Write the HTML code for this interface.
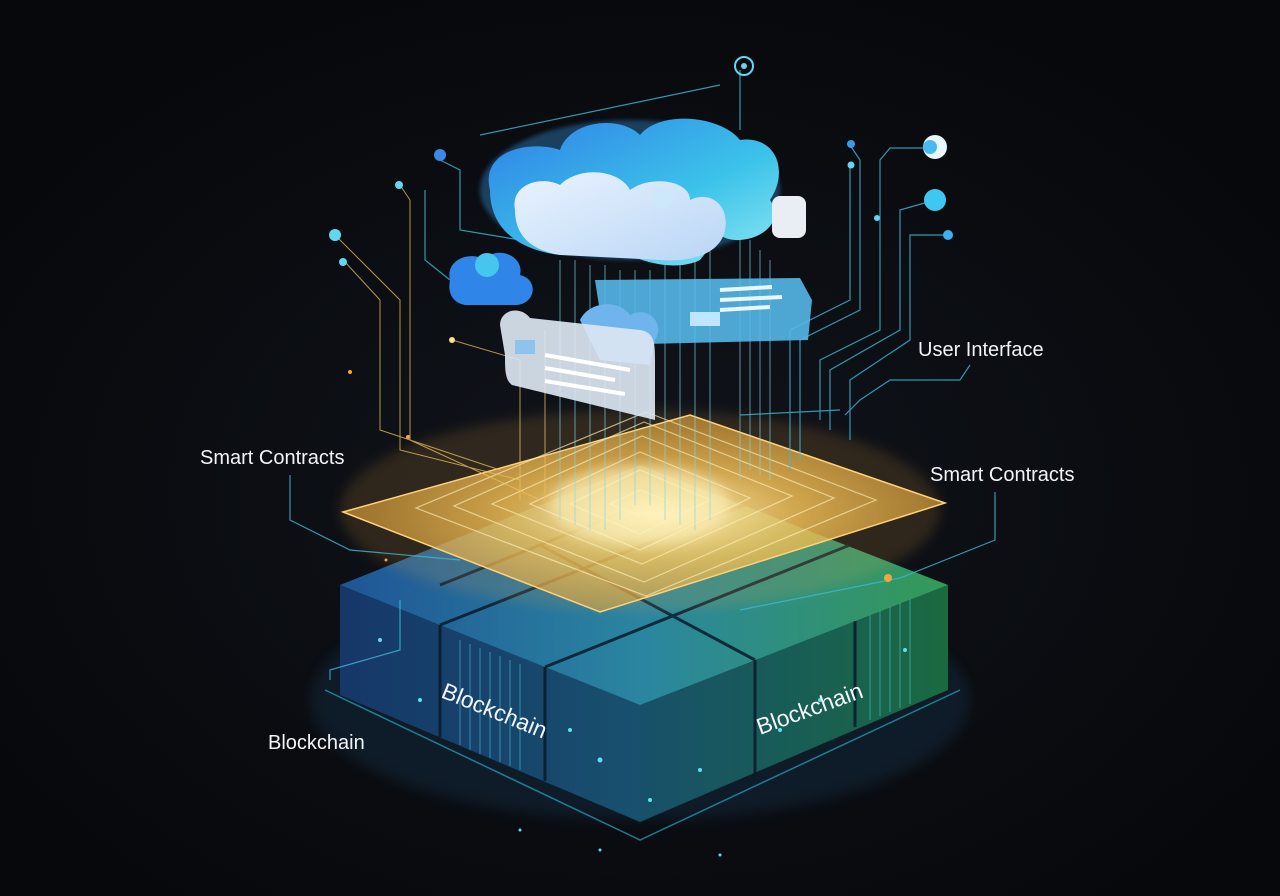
<!DOCTYPE html>
<html><head><meta charset="utf-8"><style>
html,body{margin:0;padding:0;background:#08090c;width:1280px;height:896px;overflow:hidden}
svg{display:block}
text{font-family:"Liberation Sans",sans-serif;fill:#f2f4f8}
</style></head><body>
<svg width="1280" height="896" viewBox="0 0 1280 896" xmlns="http://www.w3.org/2000/svg">
<defs>
<radialGradient id="bg" cx="50%" cy="55%" r="60%"><stop offset="0" stop-color="#10141b"/><stop offset="1" stop-color="#07080b"/></radialGradient>
<linearGradient id="lf" x1="0" y1="0" x2="1" y2="0"><stop offset="0" stop-color="#163769"/><stop offset="1" stop-color="#18506e"/></linearGradient>
<linearGradient id="rf" x1="0" y1="0" x2="1" y2="0"><stop offset="0" stop-color="#17506a"/><stop offset="1" stop-color="#1a6a40"/></linearGradient>
<linearGradient id="tf" x1="0" y1="0" x2="1" y2="0"><stop offset="0" stop-color="#1f5596"/><stop offset="0.5" stop-color="#2a86a0"/><stop offset="1" stop-color="#349a56"/></linearGradient>
<radialGradient id="gold" cx="52%" cy="50%" r="55%"><stop offset="0" stop-color="#fff2b8" stop-opacity="1"/><stop offset=".45" stop-color="#f5c257" stop-opacity=".8"/><stop offset="1" stop-color="#d99a35" stop-opacity=".6"/></radialGradient>
<linearGradient id="cl" x1="0" y1="0" x2="1" y2="1"><stop offset="0" stop-color="#2f7fe6"/><stop offset=".6" stop-color="#3cc3ea"/><stop offset="1" stop-color="#8fe8f2"/></linearGradient>
<linearGradient id="cw" x1="0" y1="0" x2="1" y2="1"><stop offset="0" stop-color="#eaf3ff"/><stop offset="1" stop-color="#b9d6f5"/></linearGradient>
<filter id="gl"><feGaussianBlur stdDeviation="6"/></filter>
<filter id="gs"><feGaussianBlur stdDeviation="2"/></filter>
</defs>
<rect width="1280" height="896" fill="url(#bg)"/>
<ellipse cx="640" cy="700" rx="330" ry="120" fill="#1a5c8a" opacity=".18" filter="url(#gl)"/>
<path d="M325 690 L640 840 L960 690" fill="none" stroke="#2aa7c8" stroke-width="1.5" opacity=".7"/>
<!-- block -->
<path d="M340 585 L640 705 L640 822 L340 695 Z" fill="url(#lf)"/>
<path d="M640 705 L948 585 L948 690 L640 822 Z" fill="url(#rf)"/>
<path d="M340 585 L640 465 L948 585 L640 705 Z" fill="url(#tf)"/>
<g stroke="#0a1a2c" stroke-width="3" opacity=".85">
<path d="M440 625 L440 737 M545 667 L545 781"/>
<path d="M755 660 L755 777 M855 621 L855 727"/>
<path d="M440 625 L745 505 M545 667 L850 545 M540 545 L755 660 M440 585 L640 505"/>
</g>
<g stroke="#4fd6e8" stroke-width="1" opacity=".5">
<path d="M460 640 L460 745 M470 644 L470 750 M480 648 L480 754 M490 652 L490 758 M500 656 L500 762 M510 660 L510 766 M520 664 L520 770"/>
<path d="M870 615 L870 720 M880 611 L880 716 M890 607 L890 712 M900 603 L900 708 M910 599 L910 704"/>
</g>
<g fill="#5ee0f0">
<circle cx="380" cy="640" r="2"/><circle cx="600" cy="760" r="2.5"/><circle cx="700" cy="770" r="2"/><circle cx="820" cy="700" r="2"/><circle cx="905" cy="650" r="2"/><circle cx="570" cy="730" r="2"/><circle cx="650" cy="800" r="2"/><circle cx="420" cy="700" r="2"/><circle cx="780" cy="730" r="2"/><circle cx="600" cy="850" r="1.5"/><circle cx="720" cy="855" r="1.5"/><circle cx="520" cy="830" r="1.5"/>
</g>
<text x="440" y="697" font-size="23" transform="rotate(22 440 697)">Blockchain</text>
<text x="760" y="735" font-size="23" transform="rotate(-20 760 735)">Blockchain</text>
<!-- gold plane -->
<ellipse cx="640" cy="510" rx="300" ry="100" fill="#f0a840" opacity=".15" filter="url(#gl)"/>
<path d="M343 512 L690 415 L945 503 L600 612 Z" fill="url(#gold)" stroke="#ffd27a" stroke-width="1.5"/>
<g fill="none" stroke="#fff0b8" stroke-width="1.2" opacity=".65">
<path d="M640 490 l30 12 l-30 14 l-30 -12 z"/>
<path d="M640 470 l70 30 l-70 34 l-70 -30 z" />
<path d="M640 452 l110 46 l-110 52 l-110 -46 z"/>
<path d="M642 436 l150 60 l-150 68 l-150 -60 z"/>
<path d="M644 422 l190 76 l-190 84 l-190 -76 z"/>
<path d="M646 412 l230 88 l-230 96 l-230 -88 z"/>
</g>
<ellipse cx="640" cy="505" rx="90" ry="40" fill="#fff3c0" opacity=".55" filter="url(#gl)"/>
<!-- vertical lines -->
<g stroke="#7fd8e6" stroke-width="1" opacity=".65">
<path d="M560 260 V520 M575 260 V525 M590 265 V530 M605 265 V530 M620 270 V520 M635 270 V505 M650 270 V505 M665 265 V520 M680 265 V525 M695 260 V530 M710 250 V520"/>
<path d="M740 230 V480 M750 240 V470 M760 250 V475 M770 260 V480"/>
</g>
<g stroke="#f0c060" stroke-width="1" fill="none" opacity=".75">
<path d="M335 235 L400 300 L400 450 L520 480"/><path d="M345 262 L380 300 L380 430 L500 470"/><path d="M400 185 L410 200 L410 440 L540 500"/>
<path d="M452 340 L520 360 L520 500"/><path d="M545 330 V510"/>
</g>
<g stroke="#3fb8d8" stroke-width="1.2" fill="none" opacity=".8">
<path d="M440 160 L460 170 L460 230 L520 240"/><path d="M425 190 L425 260 L450 280"/>
<path d="M740 70 V130"/><path d="M720 85 L480 135"/>
<path d="M930 148 L890 148 L880 160 L880 330 L820 360 V420"/>
<path d="M935 200 L900 210 L900 330 L830 370 V430"/><path d="M945 235 L910 235 L910 340 L850 380 V440"/>
<path d="M850 145 L860 160 L860 310 L800 340 V460"/><path d="M850 165 L850 300 L790 330 V470"/>
<path d="M970 365 L960 380 L890 380 L860 400 L845 415"/>
<path d="M995 492 V540 L900 578 L740 610"/>
<path d="M290 475 V520 L350 550 L460 560"/>
<path d="M330 680 L330 670 L400 650 L400 600"/>
<path d="M840 410 L740 415"/>
</g>
<g fill="#5fd8f0">
<circle cx="335" cy="235" r="6"/><circle cx="343" cy="262" r="4"/><circle cx="399" cy="185" r="4"/><circle cx="440" cy="155" r="6" fill="#3a8ae8"/><circle cx="851" cy="144" r="4" fill="#3a9ae8"/><circle cx="851" cy="165" r="3.5"/><circle cx="935" cy="200" r="11" fill="#3cc8f0"/><circle cx="948" cy="235" r="5" fill="#3cb0f0"/><circle cx="877" cy="218" r="3"/>
</g>
<circle cx="935" cy="147" r="12" fill="#e8f6ff"/><circle cx="930" cy="147" r="7" fill="#4ab9f0"/>
<circle cx="744" cy="66" r="9" fill="none" stroke="#5fd8f0" stroke-width="2"/><circle cx="744" cy="66" r="3" fill="#5fd8f0"/>
<g fill="#f5a540"><circle cx="350" cy="372" r="2"/><circle cx="408" cy="437" r="2"/><circle cx="386" cy="560" r="1.5"/><circle cx="452" cy="340" r="3" fill="#ffe08a"/><circle cx="888" cy="578" r="4"/></g>
<!-- clouds -->
<g filter="url(#gs)" opacity=".35"><ellipse cx="630" cy="190" rx="150" ry="70" fill="#3aa0f0"/></g>
<path d="M490 190 C480 150 530 140 560 150 C570 120 620 115 640 135 C660 110 720 115 740 140 C775 135 790 170 770 200 C790 230 740 250 720 235 L700 260 C680 270 650 265 630 255 L560 255 C520 250 490 230 490 190 Z" fill="url(#cl)"/>
<path d="M515 210 C510 185 540 175 560 185 C580 165 620 170 630 190 C650 175 690 180 690 200 C710 190 730 205 725 230 C720 255 690 262 660 260 L560 255 C530 250 515 235 515 210 Z" fill="url(#cw)"/>
<circle cx="663" cy="198" r="10" fill="#cde7fb"/>
<rect x="772" y="196" width="34" height="42" rx="8" fill="#e9eef5"/>
<path d="M450 280 C445 260 470 250 485 260 C495 245 525 255 520 275 C540 280 535 305 515 305 L465 305 C450 302 448 290 450 280 Z" fill="#2f86e8"/>
<circle cx="487" cy="265" r="12" fill="#46c6ee"/>
<!-- cards -->
<path d="M595 280 L800 278 L812 300 L808 340 L605 345 Z" fill="#55b8e8" opacity=".9"/>
<g stroke="#eaf6ff" stroke-width="4"><path d="M720 290 L772 287 M720 300 L782 297 M720 310 L770 307"/></g>
<rect x="690" y="312" width="30" height="14" fill="#bfe6ff"/>
<path d="M580 320 C590 300 620 300 630 315 C650 305 665 325 655 340 L650 365 L600 360 Z" fill="#6fb4ec"/>
<path d="M500 325 C500 310 520 305 530 318 L640 330 C655 332 655 345 655 360 L655 420 L512 385 C505 380 505 370 505 355 Z" fill="#dbe6f2" opacity=".92"/>
<g stroke="#ffffff" stroke-width="4"><path d="M545 355 L630 370 M545 368 L615 380 M545 381 L625 394"/></g>
<rect x="515" y="340" width="20" height="14" fill="#8ec3ee"/>
<!-- labels -->
<text x="918" y="356" font-size="20">User Interface</text>
<text x="200" y="464" font-size="20">Smart Contracts</text>
<text x="930" y="481" font-size="20">Smart Contracts</text>
<text x="268" y="749" font-size="20">Blockchain</text>
</svg>
</body></html>
